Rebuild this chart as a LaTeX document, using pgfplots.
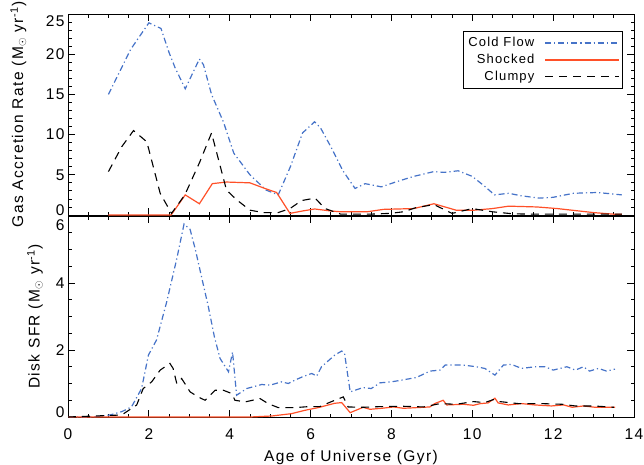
\documentclass[border=0pt]{standalone}
\usepackage{fontspec}
\setmainfont{Liberation Sans}[LetterSpace=9]
\usepackage{pgfplots}
\pgfplotsset{compat=1.18}

\definecolor{coldblue}{RGB}{70,115,200}
\definecolor{shockred}{RGB}{255,80,40}
\newcommand\fs{\fontsize{15.5pt}{18pt}\selectfont}

\pgfplotsset{
  panel/.style={
    scale only axis, width=566pt, height=201pt,
    anchor=south west,
    xmin=0, xmax=14, xtick={0,2,...,14}, minor x tick num=3,
    tick align=inside, major tick length=7pt, minor tick length=3.5pt,
    tick style={black, line width=0.8pt},
    axis line style={line width=0.9pt},
    tick label style={font=\fs},
    label style={font=\fs},
    xticklabel style={yshift=-8pt},
  },
  cold/.style={coldblue, line width=1.2pt, dash pattern=on 6pt off 3pt on 1.2pt off 3pt},
  shock/.style={shockred, line width=1.2pt},
  clump/.style={black, line width=1.1pt, dash pattern=on 8pt off 6pt},
}

\begin{document}
\begin{tikzpicture}
\path[use as bounding box] (0,0) rectangle (644pt,464pt);

% top panel: gas accretion
\begin{axis}[panel, at={(68pt,249pt)},
    ymin=0, ymax=25, ytick={0,5,10,15,20,25}, minor y tick num=4,
    xticklabels={},
    yticklabels={\smash{0},5,10,15,20,\raisebox{-12.5pt}[0pt][0pt]{25}},
    ylabel={Gas Accretion Rate (M$_\odot$ yr\textsuperscript{-1})},
    ylabel style={at={(axis description cs:-0.0875,0.5)}, anchor=center},
    legend plot pos=right, legend cell align=right,
    legend image code/.code={\draw[#1] (0pt,0pt) -- (63pt,0pt); \path (0pt,0pt) -- (74pt,0pt);},
    legend style={at={(rel axis cs:1,1)}, anchor=north east, xshift=-11pt, yshift=-17pt,
        draw=black, line width=0.8pt, inner xsep=3pt, inner ysep=3pt,
        font=\fontsize{13pt}{15pt}\selectfont, column sep=8pt, row sep=0pt,
        nodes={inner sep=2pt, text height=10pt, text depth=3pt}},
]
\addplot[cold] coordinates {
(1.0,15.0) (1.55,20.6) (2.0,23.9) (2.3,23.2) (2.5,20.2) (2.65,18.3) (2.9,15.7)
(3.25,19.4) (3.35,18.7) (3.55,15.0) (3.85,11.5) (4.1,7.7) (4.5,5.0) (4.9,3.1)
(5.2,2.5) (5.5,6.0) (5.8,10.2) (6.1,11.6) (6.25,10.8) (6.5,8.5) (6.8,5.5)
(7.1,3.3) (7.35,3.9) (7.75,3.5) (8.1,4.1) (8.55,4.8) (9.05,5.4) (9.3,5.3)
(9.65,5.5) (10.0,4.8) (10.3,3.6) (10.55,2.5) (10.9,2.7) (11.2,2.4) (11.65,2.1)
(12.0,2.2) (12.5,2.7) (13.1,2.8) (13.7,2.5)};
\addplot[shock] coordinates {
(1.0,0) (2.55,0) (2.9,2.5) (3.25,1.4) (3.57,3.9) (3.92,4.1) (4.5,4.0) (4.87,3.3)
(5.16,2.8) (5.49,0.2) (5.8,0.5) (6.1,0.75) (6.5,0.5) (6.75,0.4) (7.4,0.4)
(7.8,0.7) (8.55,0.8) (9.05,1.4) (9.6,0.6) (10.05,0.6) (10.5,0.8) (10.9,1.1)
(11.6,1.0) (12.1,0.8) (13.0,0.3) (13.5,0.1) (13.7,0.1)};
\addplot[clump] coordinates {
(1.0,5.4) (1.33,8.5) (1.62,10.5) (1.95,9.1) (2.28,2.7) (2.56,0.2) (2.89,2.5)
(3.26,6.6) (3.55,10.2) (3.92,3.1) (4.17,1.9) (4.5,0.6) (4.83,0.3) (5.2,0.3)
(5.49,0.8) (5.78,1.8) (6.11,2.1) (6.36,0.8) (6.75,0.1) (7.45,0.1) (7.95,0.2)
(8.3,0.4) (8.6,0.9) (9.05,1.3) (9.5,0.2) (10.0,0.8) (10.5,0.4) (11.0,0.15)
(11.5,0.1) (13.7,0.1)};
\legend{Cold Flow, Shocked, Clumpy}
\end{axis}

% bottom panel: disk SFR
\begin{axis}[panel, at={(68pt,47pt)},
    ymin=0, ymax=6, ytick={0,2,4,6}, minor y tick num=3,
    xticklabels={0,2,4,6,8,10,12,14},
    yticklabels={\smash{0},2,4,\raisebox{-14.5pt}[0pt][0pt]{6}},
    xlabel={Age of Universe (Gyr)},
    xlabel style={at={(axis description cs:0.5,-0.219)}, anchor=base},
    ylabel={Disk SFR (M$_\odot$ yr\textsuperscript{-1})},
    ylabel style={at={(axis description cs:-0.0583,0.5)}, anchor=center},
]
\addplot[cold] coordinates {
(0,0) (0.6,0) (1.04,0.06) (1.33,0.16) (1.57,0.3) (1.82,0.85) (1.99,1.85)
(2.19,2.3) (2.44,3.43) (2.69,4.72) (2.87,5.76) (3.02,5.6) (3.15,5.0) (3.3,4.2)
(3.47,3.3) (3.62,2.4) (3.76,1.75) (3.97,1.35) (4.07,1.94) (4.17,0.65) (4.42,0.85)
(4.79,0.97) (5.0,0.95) (5.28,1.05) (5.45,1.0) (5.61,1.1) (5.8,1.2) (6.03,1.3)
(6.15,1.22) (6.27,1.5) (6.6,1.85) (6.77,1.97) (6.84,1.9) (6.98,0.75) (7.3,0.88)
(7.5,0.85) (7.72,1.02) (8.0,1.05) (8.25,1.1) (8.62,1.18) (8.95,1.37) (9.2,1.4)
(9.33,1.55) (9.78,1.55) (10.1,1.5) (10.31,1.45) (10.56,1.25) (10.77,1.55)
(10.97,1.57) (11.22,1.45) (11.55,1.5) (11.8,1.5) (12.0,1.4) (12.34,1.5)
(12.55,1.4) (12.75,1.5) (12.9,1.37) (13.12,1.45) (13.32,1.37) (13.53,1.43)};
\addplot[shock] coordinates {
(0,0) (4.5,0) (5.04,0.03) (5.53,0.1) (5.86,0.2) (6.19,0.28) (6.44,0.36)
(6.6,0.41) (6.77,0.43) (6.98,0.13) (7.3,0.29) (7.47,0.23) (7.76,0.26) (8.05,0.3)
(8.3,0.26) (8.95,0.3) (9.07,0.4) (9.28,0.5) (9.37,0.36) (9.78,0.38) (10.03,0.35)
(10.2,0.4) (10.39,0.42) (10.56,0.56) (10.64,0.42) (10.89,0.36) (11.22,0.4)
(11.55,0.36) (11.96,0.33) (12.26,0.36) (12.47,0.29) (12.75,0.33) (13.04,0.29)
(13.53,0.29)};
\addplot[clump] coordinates {
(0,0) (1.33,0.06) (1.7,0.36) (1.86,0.85) (2.07,1.05) (2.28,1.4) (2.52,1.6)
(2.6,1.45) (2.69,1.0) (2.81,1.15) (3.02,0.75) (3.22,0.6) (3.39,0.5) (3.64,0.8)
(3.84,0.8) (4.05,0.7) (4.13,0.5) (4.38,0.45) (4.75,0.55) (4.95,0.4) (5.2,0.28)
(5.61,0.28) (5.95,0.31) (6.23,0.31) (6.4,0.4) (6.6,0.5) (6.81,0.6) (6.93,0.3)
(7.3,0.29) (7.72,0.31) (8.3,0.32) (8.8,0.3) (9.2,0.4) (9.6,0.38) (10.03,0.46)
(10.31,0.43) (10.52,0.52) (10.68,0.46) (11.14,0.4) (11.72,0.4) (12.22,0.38)
(12.55,0.33) (13.0,0.33) (13.5,0.29)};
\end{axis}
\end{tikzpicture}
\end{document}
